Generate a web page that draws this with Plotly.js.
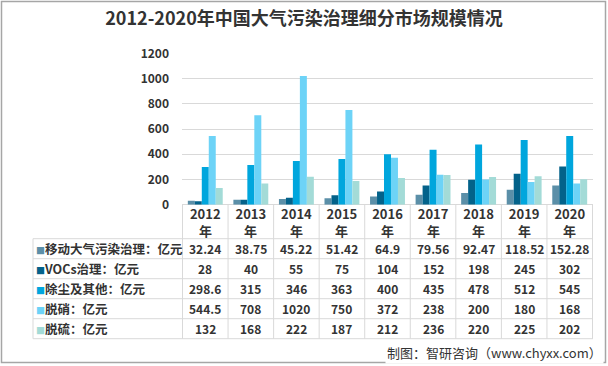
<!DOCTYPE html>
<html>
<head>
<meta charset="utf-8">
<script src="https://cdn.plot.ly/plotly-3.0.1.min.js"></script>
<style>html,body{margin:0;padding:0;background:#fff;}#chart{width:608px;height:366px;}</style>
</head>
<body>
<div id="chart"></div>
<script>
// ---- data ----
const years = ['2012','2013','2014','2015','2016','2017','2018','2019','2020'];
const yearSuffix = '年';
const seriesNames = ['移动大气污染治理：亿元','VOCs治理：亿元','除尘及其他：亿元','脱硝：亿元','脱硫：亿元'];
const mobile = [32.24, 38.75, 45.22, 51.42, 64.9, 79.56, 92.47, 118.52, 152.28];
const vocs   = [28, 40, 55, 75, 104, 152, 198, 245, 302];
const dust   = [298.6, 315, 346, 363, 400, 435, 478, 512, 545];
const denox  = [544.5, 708, 1020, 750, 372, 238, 200, 180, 168];
const desulf = [132, 168, 222, 187, 212, 236, 220, 225, 202];
const title = '2012-2020年中国大气污染治理细分市场规模情况';
const source = '制图：智研咨询（www.chyxx.com）';

// ---- style ----
const colors = ['#5b8fa8','#03628a','#00a6dd','#6dd3f7','#a3dbd7'];
const W = 608, H = 366;
const px = v => v / W, py = v => 1 - v / H;
const CJK = '"Noto Sans CJK SC", "Noto Sans", sans-serif';
const txt = '#333333';
const grid = '#d9d9d9';

const series = [mobile, vocs, dust, denox, desulf];
const cats = years.map(y => y + yearSuffix);

const traces = series.map((vals, i) => ({
  type: 'bar', x: cats, y: vals, name: seriesNames[i],
  marker: {color: colors[i], line: {width: 0}},
  hoverinfo: 'skip', showlegend: false
}));

const plotL = 182, plotR = 593, tableL = 33;
const axisY = 204.7, headBot = 238.7, rowH = 20;
const tableBot = headBot + rowH * series.length;

const shapes = [];
const annotations = [];
// vertical cell borders on category boundaries
for (let i = 0; i <= years.length; i++) {
  shapes.push({type: 'line', xref: 'x', yref: 'paper', x0: i - 0.5, x1: i - 0.5,
               y0: py(axisY), y1: py(tableBot), line: {color: grid, width: 1}});
}
// left border of label column
shapes.push({type: 'line', xref: 'paper', yref: 'paper', x0: px(tableL), x1: px(tableL),
             y0: py(headBot), y1: py(tableBot), line: {color: grid, width: 1}});
// horizontal row borders
for (let r = 0; r <= series.length; r++) {
  const yy = headBot + r * rowH;
  shapes.push({type: 'line', xref: 'paper', yref: 'paper', x0: px(tableL), x1: px(plotR),
               y0: py(yy), y1: py(yy), line: {color: grid, width: 1}});
}
// outer frame
shapes.push({type: 'rect', xref: 'paper', yref: 'paper', x0: px(1.5), x1: px(605.5), y0: py(1.5), y1: py(362.5),
             line: {color: '#a6a6a6', width: 1.5}, fillcolor: 'rgba(0,0,0,0)'});

// second line of the year header ("年")
cats.forEach((c, j) => {
  annotations.push({xref: 'x', yref: 'paper', x: c, y: py(230.5), xanchor: 'center', yanchor: 'middle',
    showarrow: false, text: '<b>' + yearSuffix + '</b>', font: {family: CJK, size: 13, color: txt}});
});

// row labels and cell values
series.forEach((vals, r) => {
  const yc = py(headBot + r * rowH + rowH / 2);
  annotations.push({xref: 'paper', yref: 'paper', x: px(34), y: yc, xanchor: 'left', yanchor: 'middle',
    showarrow: false,
    text: '<span style="color:' + colors[r] + ';font-size:9px">■</span><b>' + seriesNames[r] + '</b>',
    font: {family: CJK, size: 12.5, color: txt}});
  vals.forEach((v, j) => {
    annotations.push({xref: 'x', yref: 'paper', x: j, y: yc, xanchor: 'center', yanchor: 'middle',
      showarrow: false, text: '<b>' + String(v) + '</b>',
      font: {family: CJK, size: 12, color: txt}});
  });
});

annotations.push({text: source, xref: 'paper', yref: 'paper', x: px(604), y: py(352),
                  xanchor: 'right', yanchor: 'middle', showarrow: false, bgcolor: 'white',
                  font: {family: CJK, size: 13, color: '#333333'}});

const layout = {
  width: W, height: H,
  margin: {l: 0, r: 0, t: 0, b: 0},
  paper_bgcolor: 'white', plot_bgcolor: 'white',
  showlegend: false,
  barmode: 'group', bargap: 0.234, bargroupgap: 0,
  title: {text: '<b>' + title + '</b>', x: 0.5, xanchor: 'center', y: py(18.5), yanchor: 'middle',
          font: {family: CJK, size: 18, color: '#333333'}},
  xaxis: {domain: [px(plotL), px(plotR)], type: 'category', tickmode: 'array', tickvals: cats,
          ticktext: years.map(y => '<b>' + y + '</b>'),
          tickfont: {family: CJK, size: 13, color: txt}, ticklabelstandoff: 0,
          showline: false, ticks: '', showgrid: false, zeroline: false, fixedrange: true},
  yaxis: {domain: [py(axisY), py(53.3)], range: [0, 1200], dtick: 200, tick0: 0,
          showgrid: true, gridcolor: grid, gridwidth: 1, zeroline: true, zerolinecolor: grid,
          showline: false, ticks: '', ticklabelstandoff: 12,
          tickfont: {family: CJK, size: 12, color: txt, weight: 700}, fixedrange: true},
  shapes: shapes,
  annotations: annotations
};

Plotly.newPlot('chart', traces, layout, {displayModeBar: false, staticPlot: true});
</script>
</body>
</html>
